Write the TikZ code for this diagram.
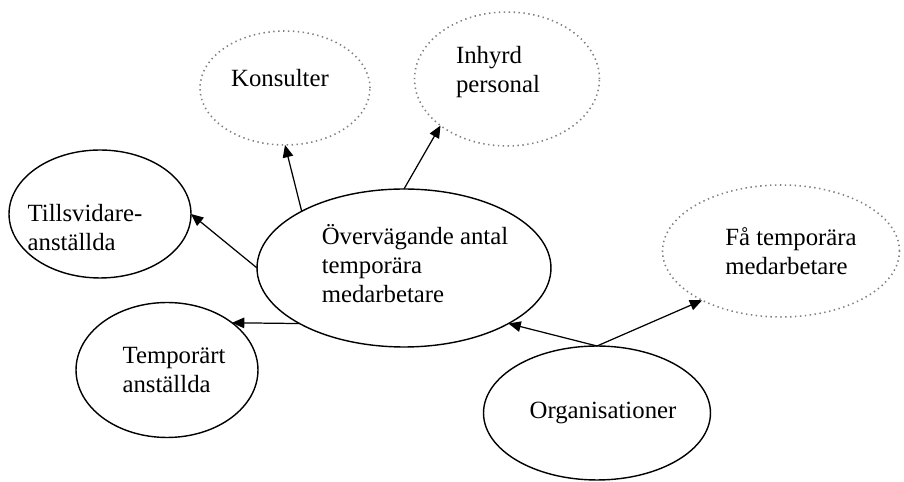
\documentclass[tikz,border=0pt]{standalone}
\usepackage{fontspec}
\setmainfont{Liberation Serif}
\usetikzlibrary{shapes.geometric,arrows.meta}
\begin{document}
\begin{tikzpicture}[x=0.02cm,y=-0.02cm,
  group/.style={ellipse,draw,line width=0.8pt,outer sep=0pt},
  other/.style={group,draw=gray,dotted,line width=0.9pt},
  every label/.style={align=left,font=\fontsize{14.1}{16.5}\selectfont},
  link/.style={-{Triangle[length=7pt,width=6pt]},line width=0.7pt}]
  \useasboundingbox (0,0) rectangle (904,482);
  \node[group,minimum width=5.88cm,minimum height=3.16cm,
    label={[xshift=0.22cm,yshift=0.08cm]center:Övervägande antal\\temporära\\medarbetare}] (main) at (404,268) {};
  \node[other,minimum width=3.4cm,minimum height=2.28cm,
    label={[xshift=-0.1cm,yshift=0.2cm]center:Konsulter}] (kons) at (285,88) {};
  \node[other,minimum width=3.7cm,minimum height=2.68cm,
    label={[xshift=-0.18cm,yshift=0.14cm]center:Inhyrd\\personal}] (inhyrd) at (507,79) {};
  \node[group,minimum width=3.64cm,minimum height=2.56cm,
    label={[xshift=-0.3cm,yshift=-0.28cm]center:Tillsvidare-\\anställda}] (tills) at (100,214) {};
  \node[group,minimum width=3.64cm,minimum height=2.7cm,
    label={[xshift=0.14cm]center:Temporärt\\anställda}] (temp) at (167,370) {};
  \node[other,minimum width=4.74cm,minimum height=2.64cm,
    label={[xshift=0.2cm]center:Få temporära\\medarbetare}] (fa) at (781,251) {};
  \node[group,minimum width=4.54cm,minimum height=2.68cm,
    label={[xshift=0.12cm]center:Organisationer}] (org) at (597,413) {};
  \draw[link] (main.151) -- (kons.270);
  \draw[link] (main.90) -- (inhyrd.215);
  \draw[link] (main.180) -- (tills.0);
  \draw[link] (main.208) -- (temp.36);
  \draw[link] (org.90) -- (main.-28);
  \draw[link] (org.90) -- (fa.212);
\end{tikzpicture}
\end{document}
